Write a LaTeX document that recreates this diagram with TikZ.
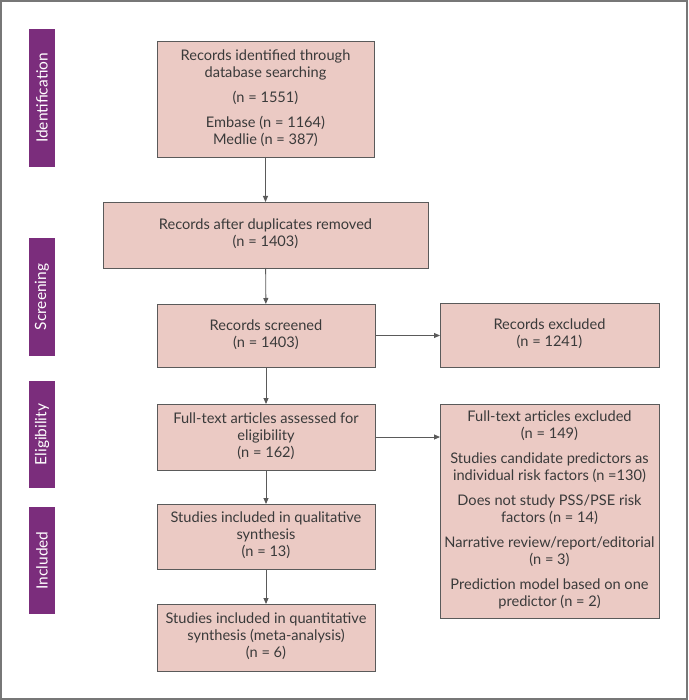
\documentclass[tikz,border=0pt]{standalone}
\usepackage{fontspec}
\setmainfont{Lato}
\usetikzlibrary{arrows.meta}
\definecolor{boxfill}{HTML}{EBCAC4}
\definecolor{boxline}{HTML}{5A5A5A}
\definecolor{labpurple}{HTML}{7B2D7C}
\definecolor{txt}{HTML}{3A3A3A}
\definecolor{frame}{HTML}{777777}
\newcommand{\boxlines}[1]{\begin{tabular}{@{}c@{}}#1\end{tabular}}
\tikzset{
  box/.style={draw=boxline, fill=boxfill, line width=0.9pt, text=txt,
    inner sep=0pt, outer sep=0pt, anchor=north west, font=\fontsize{14.6}{17}\selectfont},
  stagelabel/.style={fill=labpurple, text=white, rotate=90, inner sep=0pt, outer sep=0pt,
    font=\fontsize{15.5}{18}\selectfont, minimum height=26pt},
  arr/.style={draw=boxline, line width=0.9pt, -{Triangle[length=6pt,width=5pt]}}
}
\begin{document}
\begin{tikzpicture}[x=1pt,y=-1pt]
\useasboundingbox (0,0) rectangle (688,700);
\draw[frame, line width=1.5pt] (1,1) rectangle (687,699);
% stage labels
\node[stagelabel, minimum width=138pt] (lid) at (42,98) {Identification};
\node[stagelabel, minimum width=118pt] (lsc) at (42,297) {Screening};
\node[stagelabel, minimum width=107pt] (lel) at (42,434.5) {Eligibility};
\node[stagelabel, minimum width=107pt] (lin) at (42,560.5) {Included};
% boxes
\node[box, minimum width=217pt, minimum height=116pt] (b1) at (157,41)
  {\boxlines{Records identified through\\database searching\\[8pt](n = 1551)\\[8pt]Embase (n = 1164)\\Medlie (n = 387)}};
\node[box, minimum width=325pt, minimum height=66pt] (b2) at (103,202)
  {\boxlines{Records after duplicates removed\\(n = 1403)}};
\node[box, minimum width=218pt, minimum height=63pt] (b3) at (157,304)
  {\boxlines{Records screened\\(n = 1403)}};
\node[box, minimum width=218pt, minimum height=66pt] (b4) at (157,404)
  {\boxlines{Full-text articles assessed for\\eligibility\\(n = 162)}};
\node[box, minimum width=218pt, minimum height=65pt] (b5) at (157,504)
  {\boxlines{Studies included in qualitative\\synthesis\\(n = 13)}};
\node[box, minimum width=218pt, minimum height=67pt] (b6) at (157,604)
  {\boxlines{Studies included in quantitative\\synthesis (meta-analysis)\\(n = 6)}};
\node[box, minimum width=219pt, minimum height=64pt] (e1) at (440,303)
  {\boxlines{Records excluded\\(n = 1241)}};
\node[box, minimum width=219pt, minimum height=214pt] (e2) at (440,404)
  {\boxlines{Full-text articles excluded\\(n = 149)\\[8pt]Studies candidate predictors as\\individual risk factors (n =130)\\[8pt]Does not study PSS/PSE risk\\factors (n = 14)\\[8pt]Narrative review/report/editorial\\(n = 3)\\[8pt]Prediction model based on one\\predictor (n = 2)}};
% connectors
\draw[arr] (b1) -- (b2);
\draw[arr] (b2) -- (b3);
\draw[arr] (b3) -- (b4);
\draw[arr] (b4) -- (b5);
\draw[arr] (b5) -- (b6);
\draw[arr] (b3.east) -- (b3.east -| e1.west);
\draw[arr] (b4.east) -- (b4.east -| e2.west);
\end{tikzpicture}
\end{document}
